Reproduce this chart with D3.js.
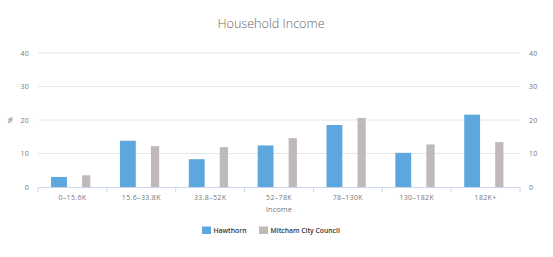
<!DOCTYPE html>
<html>
<head>
<meta charset="utf-8">
<script src="https://cdn.jsdelivr.net/npm/d3@7"></script>
<style>
  body { margin: 0; background: #fff; }
  svg { font-family: "Open Sans", sans-serif; }
</style>
</head>
<body>
<svg id="chart" width="553" height="257"></svg>
<script>
// income bands and shares (%)
const categories = ["0–15.6K", "15.6–33.8K", "33.8–52K", "52–78K", "78–130K", "130–182K", "182K+"];
const hawthorn = [3.0, 13.8, 8.3, 12.4, 18.5, 10.2, 21.6];
const mitcham = [3.5, 12.2, 11.9, 14.6, 20.6, 12.7, 13.4];
const yTicks = [0, 10, 20, 30, 40];

const series = [
    { name: "Hawthorn", values: hawthorn, color: "#5ba7de", x0: 0.19, x1: 0.42 },
    { name: "Mitcham City Council", values: mitcham, color: "#bfb9ba", x0: 0.64, x1: 0.76 }
];

const svg = d3.select("#chart");
const plotLeft = 38, plotRight = 520, plotTop = 53, plotBottom = 187;

const x = d3.scaleBand().domain(categories).range([plotLeft, plotRight]);
const y = d3.scaleLinear().domain([0, 40]).range([plotBottom, plotTop]);

// title
svg.append("text")
    .attr("x", 271).attr("y", 28)
    .attr("text-anchor", "middle")
    .style("font-size", "12.6px")
    .style("font-weight", 300)
    .style("fill", "#666")
    .text("Household Income");

// grid
svg.append("g")
    .selectAll("line")
    .data(yTicks.filter(d => d > 0))
    .enter().append("line")
    .attr("x1", plotLeft).attr("x2", plotRight)
    .attr("y1", d => y(d)).attr("y2", d => y(d))
    .style("stroke", "#e6e6e6")
    .style("stroke-width", 1);

// left + right tick labels
[{ xpos: 29, anchor: "end" }, { xpos: 529, anchor: "start" }].forEach(function (side) {
    svg.append("g")
        .selectAll("text")
        .data(yTicks)
        .enter().append("text")
        .attr("x", side.xpos)
        .attr("y", d => y(d) + 2.5)
        .attr("text-anchor", side.anchor)
        .style("font-size", "7px")
        .style("letter-spacing", "0.3px")
        .style("fill", "#777")
        .text(d => d);
});

svg.append("text")
    .attr("x", 11).attr("y", 122)
    .attr("text-anchor", "middle")
    .attr("transform", "rotate(-90 11 120)")
    .style("font-size", "7px")
    .style("fill", "#777")
    .text("%");

// bars
series.forEach(function (s) {
    svg.append("g")
        .selectAll("rect")
        .data(s.values)
        .enter().append("rect")
        .attr("x", (d, i) => x(categories[i]) + x.bandwidth() * s.x0)
        .attr("width", x.bandwidth() * (s.x1 - s.x0))
        .attr("y", d => y(d))
        .attr("height", d => y(0) - y(d))
        .style("fill", s.color);
});

// x axis
const xAxis = svg.append("g")
    .attr("transform", `translate(0,${plotBottom})`)
    .call(d3.axisBottom(x).tickSize(0).tickPadding(8));
xAxis.select(".domain").style("stroke", "#ccd6eb").style("stroke-width", 1);
xAxis.selectAll("text")
    .style("font-size", "7px")
    .style("letter-spacing", "0.35px")
    .style("fill", "#777")
    .style("font-family", "\"Open Sans\", sans-serif");

svg.append("g")
    .selectAll("line")
    .data(d3.range(categories.length + 1))
    .enter().append("line")
    .attr("x1", i => plotLeft + i * x.bandwidth())
    .attr("x2", i => plotLeft + i * x.bandwidth())
    .attr("y1", plotBottom).attr("y2", plotBottom + 5)
    .style("stroke", "#ccd6eb");

svg.append("text")
    .attr("x", 279).attr("y", 212)
    .attr("text-anchor", "middle")
    .style("font-size", "7.5px")
    .style("fill", "#777")
    .text("Income");

// legend
const legend = svg.append("g").attr("transform", "translate(202,230)");
let lx = 0;
series.forEach(function (s) {
    const g = legend.append("g").attr("transform", `translate(${lx},0)`);
    g.append("rect")
        .attr("x", 0).attr("y", -3.5)
        .attr("width", 9).attr("height", 7.5)
        .style("fill", s.color);
    const t = g.append("text")
        .attr("x", 11.5).attr("y", 2.8)
        .style("font-size", "6.8px")
        .style("font-weight", 600)
        .style("fill", "#333")
        .text(s.name);
    lx += 11.5 + t.node().getComputedTextLength() + 12.5;
});
</script>
</body>
</html>
